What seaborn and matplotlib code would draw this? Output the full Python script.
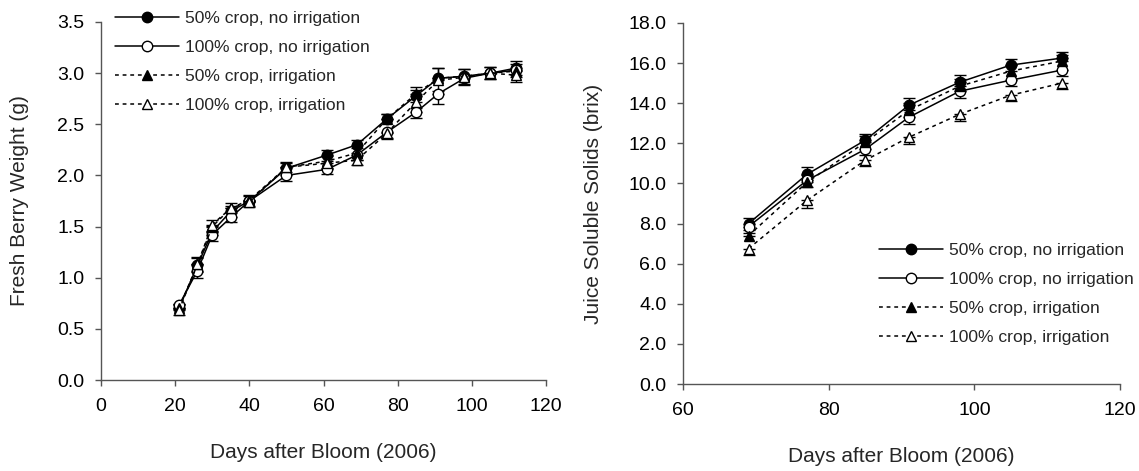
import matplotlib
matplotlib.use("Agg")
import matplotlib.pyplot as plt
import seaborn as sns
import numpy as np
import pandas as pd

sns.set_theme(style="ticks")
plt.rcParams['font.family'] = ['Liberation Sans', 'DejaVu Sans']

# ---- data ----
series_names = ["50% crop, no irrigation", "100% crop, no irrigation",
                "50% crop, irrigation", "100% crop, irrigation"]

days_weight = [21, 26, 30, 35, 40, 50, 61, 69, 77, 85, 91, 98, 105, 112]
weight_50_noirr = [0.70, 1.12, 1.45, 1.65, 1.75, 2.07, 2.20, 2.30, 2.55, 2.78, 2.95, 2.97, 3.00, 3.05]
weight_100_noirr = [0.73, 1.07, 1.42, 1.59, 1.75, 2.00, 2.06, 2.20, 2.42, 2.62, 2.80, 2.95, 3.00, 3.03]
weight_50_irr = [0.70, 1.13, 1.50, 1.68, 1.76, 2.08, 2.14, 2.22, 2.55, 2.80, 2.95, 2.97, 3.00, 3.02]
weight_100_irr = [0.68, 1.13, 1.52, 1.68, 1.74, 2.08, 2.12, 2.15, 2.41, 2.72, 2.93, 2.96, 3.00, 2.98]
weight_err = [0.04, 0.07, 0.06, 0.05, 0.05, 0.05, 0.05, 0.05, 0.05, 0.06, 0.10, 0.07, 0.06, 0.07]

days_brix = [69, 77, 85, 91, 98, 105, 112]
brix_50_noirr = [8.0, 10.45, 12.15, 13.9, 15.05, 15.9, 16.25]
brix_100_noirr = [7.85, 10.15, 11.7, 13.3, 14.6, 15.15, 15.65]
brix_50_irr = [7.4, 10.05, 12.05, 13.65, 14.85, 15.6, 16.1]
brix_100_irr = [6.75, 9.15, 11.15, 12.3, 13.45, 14.4, 15.0]
brix_err = [0.3, 0.35, 0.3, 0.35, 0.35, 0.3, 0.3]

weight_yticks = [0.0, 0.5, 1.0, 1.5, 2.0, 2.5, 3.0, 3.5]
weight_xticks = [0, 20, 40, 60, 80, 100, 120]
brix_yticks = [0, 2, 4, 6, 8, 10, 12, 14, 16, 18]
brix_xticks = [60, 80, 100, 120]

styles = [
    dict(marker='o', mfc='black', ls='-', up=True),
    dict(marker='o', mfc='white', ls='-', up=False),
    dict(marker='^', mfc='black', ls=(0, (2.5, 2.5)), up=True),
    dict(marker='^', mfc='white', ls=(0, (2.5, 2.5)), up=False),
]

fig = plt.figure(figsize=(11.39, 4.71), dpi=100)
ax1 = fig.add_axes([0.0887, 0.1932, 0.4794 - 0.0887, 0.9533 - 0.1932])
ax2 = fig.add_axes([0.5997, 0.1847, 0.9833 - 0.5997, 0.9512 - 0.1847])


def draw(ax, x, ys, err):
    for name, y, st in zip(series_names, ys, styles):
        df = pd.DataFrame({"x": x, "y": y})
        sns.lineplot(data=df, x="x", y="y", ax=ax, color='black', linewidth=1.1,
                     linestyle=st['ls'], marker=st['marker'], markersize=7.5,
                     markerfacecolor=st['mfc'], markeredgecolor='black',
                     markeredgewidth=1.0, label=name, zorder=3)
        e = np.array(err)
        z = np.zeros_like(e)
        yerr = [z, e] if st['up'] else [e, z]
        ax.errorbar(x, y, yerr=yerr, fmt='none', ecolor='black',
                    elinewidth=1.0, capsize=4.5, capthick=1.0, zorder=2)


draw(ax1, days_weight, [weight_50_noirr, weight_100_noirr, weight_50_irr, weight_100_irr], weight_err)
draw(ax2, days_brix, [brix_50_noirr, brix_100_noirr, brix_50_irr, brix_100_irr], brix_err)

for ax in (ax1, ax2):
    sns.despine(ax=ax)
    ax.spines['left'].set_color('#555555')
    ax.spines['bottom'].set_color('#555555')
    ax.spines['left'].set_linewidth(1.0)
    ax.spines['bottom'].set_linewidth(1.0)
    ax.tick_params(direction='out', length=4, width=1.0, color='#555555',
                   labelsize=14, labelcolor='black')
    ax.tick_params(axis='x', pad=9)
    ax.tick_params(axis='y', pad=8)
    ax.set_xlabel("Days after Bloom (2006)", fontsize=15, labelpad=20)

ax1.set_xlim(0, 120)
ax1.set_ylim(0, 3.5)
ax1.set_xticks(weight_xticks)
ax1.set_yticks(weight_yticks)
ax1.set_yticklabels([f"{v:.1f}" for v in weight_yticks])
ax1.set_ylabel("Fresh Berry Weight (g)", fontsize=15, labelpad=20)

ax2.set_xlim(60, 120)
ax2.set_ylim(0, 18)
ax2.set_xticks(brix_xticks)
ax2.set_yticks(brix_yticks)
ax2.set_yticklabels([f"{v:.1f}" for v in brix_yticks])
ax2.set_ylabel("Juice Soluble Solids (brix)", fontsize=15, labelpad=18)

leg_kw = dict(frameon=False, fontsize=12.6, handlelength=3.65, handletextpad=0.35,
              labelspacing=0.78, borderpad=0, borderaxespad=0, loc='upper left')
ax1.legend(bbox_to_anchor=(0.101, 0.977), bbox_transform=fig.transFigure, **leg_kw)
ax2.legend(bbox_to_anchor=(0.772, 0.484), bbox_transform=fig.transFigure, **leg_kw)

fig.savefig("out.png", dpi=100)
